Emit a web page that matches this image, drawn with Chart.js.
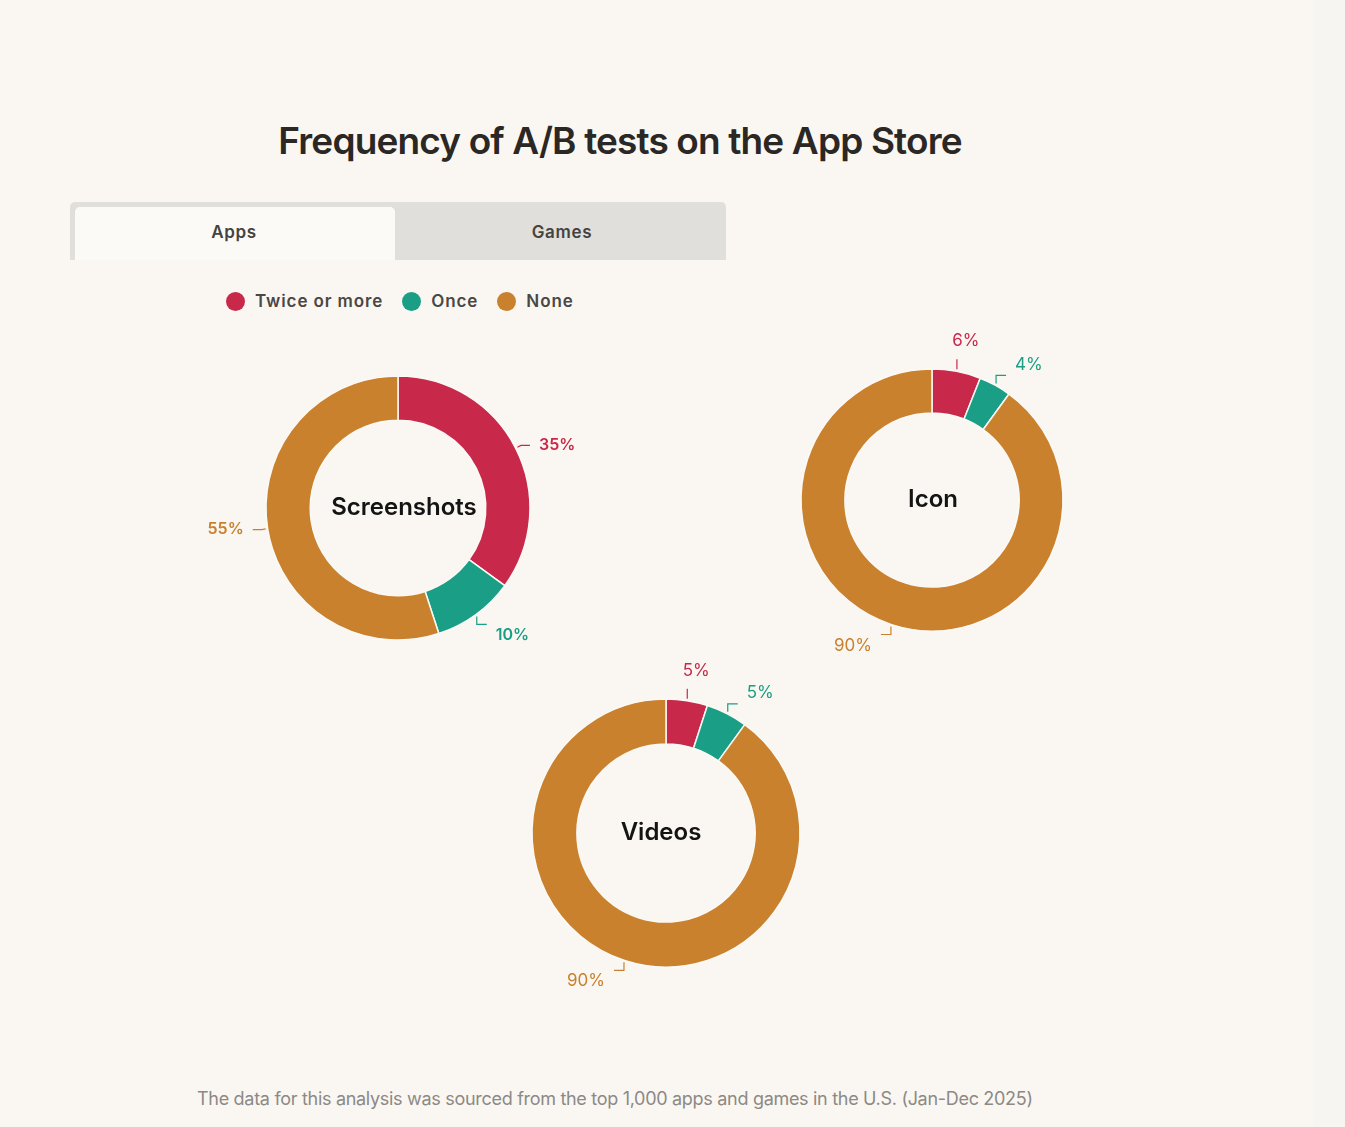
<!DOCTYPE html>
<html>
<head>
<meta charset="utf-8">
<script src="https://cdn.jsdelivr.net/npm/chart.js@4.4.1/dist/chart.umd.min.js"></script>
<style>
  html, body { margin:0; padding:0; }
  body { width:1345px; height:1127px; background:#faf7f2; position:relative; overflow:hidden; font-family: Inter, "Noto Sans", sans-serif; }
  #rstrip { position:absolute; left:1313px; top:0; width:32px; height:1127px; background:#f7f5f1; }
  #title { position:absolute; left:0; width:1240px; top:118px; text-align:center; font-size:37px; font-weight:600; color:#2a2724; letter-spacing:-0.85px; white-space:nowrap; }
  #tabs { position:absolute; left:70px; top:202px; width:656px; height:58px; background:#e0dfdb; border-radius:5px 5px 0 0; }
  #tabApps { position:absolute; left:5px; top:5px; width:320px; height:53px; background:#fcfaf7; border-radius:5px 5px 0 0; }
  .tabtxt { position:absolute; top:20px; font-size:17px; font-weight:600; color:#454341; letter-spacing:0.7px; transform:translateX(-50%); white-space:nowrap; }
  #legend { position:absolute; left:226px; top:291px; font-size:17px; font-weight:600; color:#4a4745; letter-spacing:0.9px; white-space:nowrap; display:flex; align-items:center; }
  .sw { display:inline-block; width:19px; height:19px; border-radius:50%; margin-right:10px; }
  .li { display:flex; align-items:center; margin-right:19px; }
  #foot { position:absolute; left:197px; top:1088px; font-size:18px; color:#8c8986; letter-spacing:-0.3px; white-space:nowrap; }
  canvas { position:absolute; }
</style>
</head>
<body>
<div id="rstrip"></div>
<div id="title">Frequency of A/B tests on the App Store</div>
<div id="tabs">
  <div id="tabApps"></div>
  <div class="tabtxt" style="left:164px;">Apps</div>
  <div class="tabtxt" style="left:492px;">Games</div>
</div>
<div id="legend"></div>
<div style="position:absolute;left:168px;top:318px;width:460px;height:380px;"><canvas id="cS"></canvas></div>
<div style="position:absolute;left:702px;top:310px;width:460px;height:380px;"><canvas id="cI"></canvas></div>
<div style="position:absolute;left:436px;top:643px;width:460px;height:380px;"><canvas id="cV"></canvas></div>
<div id="foot">The data for this analysis was sourced from the top 1,000 apps and games in the U.S. (Jan-Dec 2025)</div>

<script>
// ---- data ----
const categories = ['Twice or more', 'Once', 'None'];
const chartNames = ['Screenshots', 'Icon', 'Videos'];
const screenshotsValues = [35, 10, 55];
const iconValues = [6, 4, 90];
const videosValues = [5, 5, 90];
const seriesColors = ['#c8294a', '#1a9e85', '#c9812e'];

// ---- legend (HTML) ----
const legendEl = document.getElementById('legend');
categories.forEach((c, i) => {
  const d = document.createElement('span');
  d.className = 'li';
  d.innerHTML = '<span class="sw" style="background:' + seriesColors[i] + '"></span>' + c;
  legendEl.appendChild(d);
});

// ---- plugin: center text + outside labels with elbow leader lines ----
const donutLabels = {
  id: 'donutLabels',
  afterDatasetsDraw(chart, args, opts) {
    const ctx = chart.ctx;
    const meta = chart.getDatasetMeta(0);
    const data = chart.data.datasets[0].data;
    ctx.save();
    const c0 = meta.data[0];
    ctx.font = '600 24px Inter, "Noto Sans", sans-serif';
    ctx.fillStyle = '#141414';
    ctx.textAlign = 'center';
    ctx.textBaseline = 'middle';
    ctx.fillText(opts.center, c0.x + (opts.cdx || 0), c0.y);
    meta.data.forEach((arc, i) => {
      const mid = (arc.startAngle + arc.endAngle) / 2;
      const dx = Math.cos(mid), dy = Math.sin(mid);
      const r = arc.outerRadius;
      const col = seriesColors[i];
      const x0 = arc.x + dx * (r + 2), y0 = arc.y + dy * (r + 2);
      const side = dx >= 0 ? 1 : -1;
      const vs = dy >= 0 ? 1 : -1;
      ctx.strokeStyle = col;
      ctx.lineWidth = 1.2;
      ctx.fillStyle = col;
      ctx.font = opts.font;
      ctx.textBaseline = 'middle';
      const txt = data[i] + '%';
      ctx.beginPath();
      ctx.moveTo(x0, y0);
      if (Math.abs(dx) < 0.25) {
        // near top / bottom: straight vertical leader, label beyond it
        const y1 = y0 + vs * 10;
        ctx.lineTo(x0, y1); ctx.stroke();
        ctx.textAlign = 'center';
        ctx.fillText(txt, x0 + 9 * side, y1 + vs * 18);
      } else if (Math.abs(dy) > 0.7) {
        // upper / lower: vertical then horizontal elbow, label offset outward
        const y1 = y0 + vs * 8;
        const x2 = x0 + side * 10;
        ctx.lineTo(x0, y1); ctx.lineTo(x2, y1); ctx.stroke();
        ctx.textAlign = side > 0 ? 'left' : 'right';
        ctx.fillText(txt, x2 + side * 9, y1 + vs * 11);
      } else {
        // side: short radial then horizontal
        const x1 = arc.x + dx * (r + 6), y1 = arc.y + dy * (r + 6);
        const x2 = x1 + side * 9;
        ctx.lineTo(x1, y1); ctx.lineTo(x2, y1); ctx.stroke();
        ctx.textAlign = side > 0 ? 'left' : 'right';
        ctx.fillText(txt, x2 + side * 9, y1);
      }
    });
    ctx.restore();
  }
};

function makeDonut(id, values, name, radius, font, cdx) {
  return new Chart(document.getElementById(id), {
    type: 'doughnut',
    data: {
      labels: categories,
      datasets: [{
        data: values,
        backgroundColor: seriesColors,
        borderColor: '#fbf9f5',
        borderWidth: 1.5,
        hoverOffset: 0
      }]
    },
    options: {
      responsive: true,
      maintainAspectRatio: false,
      animation: false,
      radius: radius,
      cutout: '66.5%',
      layout: { padding: 0 },
      plugins: {
        legend: { display: false },
        tooltip: { enabled: false },
        donutLabels: { center: name, font: font, cdx: cdx }
      }
    },
    plugins: [donutLabels]
  });
}

makeDonut('cS', screenshotsValues, chartNames[0], 132, '600 16px Inter, "Noto Sans", sans-serif', 6);
makeDonut('cI', iconValues, chartNames[1], 131, '400 17px Inter, "Noto Sans", sans-serif', 1);
makeDonut('cV', videosValues, chartNames[2], 134, '400 17px Inter, "Noto Sans", sans-serif', -5);
</script>
</body>
</html>
